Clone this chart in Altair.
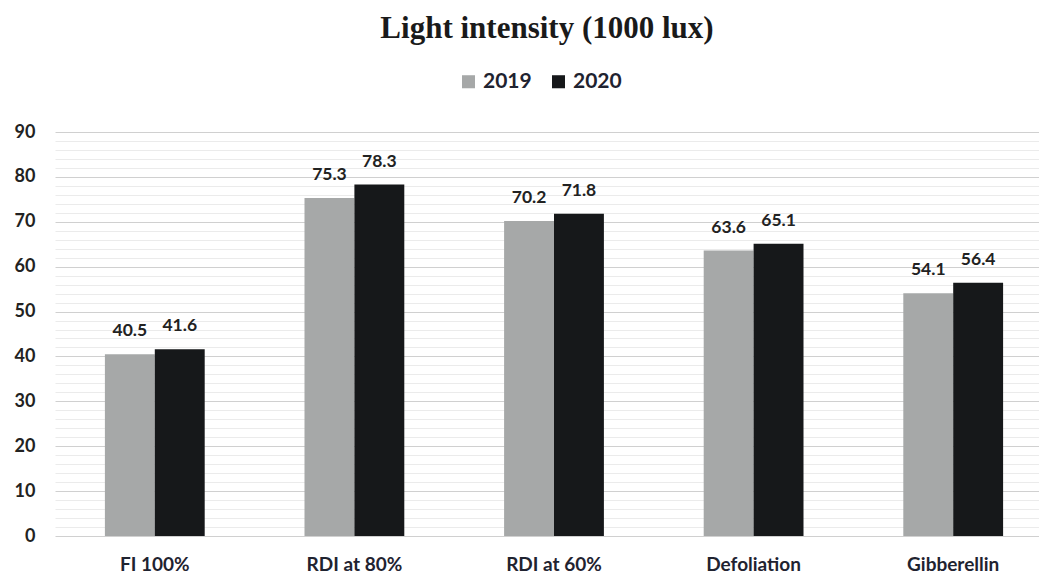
import altair as alt
import pandas as pd

categories = ["FI 100%", "RDI at 80%", "RDI at 60%", "Defoliation", "Gibberellin"]
years = ["2019", "2020"]
values_2019 = [40.5, 75.3, 70.2, 63.6, 54.1]
values_2020 = [41.6, 78.3, 71.8, 65.1, 56.4]
y_ticks = list(range(0, 91, 2))

rows = []
for c, a, b in zip(categories, values_2019, values_2020):
    rows.append({"cat": c, "year": "2019", "value": a})
    rows.append({"cat": c, "year": "2020", "value": b})
df = pd.DataFrame(rows)

FONT = "Lato"
color_scale = alt.Scale(domain=years, range=["#a6a8a8", "#16181a"])

x = alt.X("cat:N", sort=categories, title=None,
          scale=alt.Scale(paddingInner=0.5, paddingOuter=0.25, range=[0, 998]),
          axis=alt.Axis(labelAngle=0, labelFont=FONT, labelFontSize=19, labelFontWeight="bold",
                        labelColor="#1f2330", labelPadding=19, ticks=False, domain=False, grid=False))
y = alt.Y("value:Q", title=None,
          scale=alt.Scale(domain=[0, 90], nice=False, zero=True),
          axis=alt.Axis(values=y_ticks, labelExpr="datum.value % 10 == 0 ? datum.label : ''",
                        labelOverlap=False,
                        labelFont=FONT, labelFontSize=18, labelFontWeight="bold", labelColor="#222",
                        labelPadding=20, ticks=False, domain=False,
                        gridColor=alt.condition("datum.value % 10 == 0", alt.value("#d0d0d0"), alt.value("#ebebeb")),
                        gridWidth=1))

base = alt.Chart(df).encode(x=x, y=y, xOffset=alt.XOffset("year:N", sort=years))

bars = base.mark_bar().encode(
    color=alt.Color("year:N", scale=color_scale, title=None,
                    legend=alt.Legend(orient="none", legendX=403, legendY=-61, direction="horizontal",
                                      symbolType="square", symbolSize=170, symbolStrokeWidth=0,
                                      labelFont=FONT, labelFontSize=21, labelFontWeight="bold",
                                      labelColor="#1f2330", columnPadding=16, labelOffset=4)),
)
labels = base.mark_text(dy=-23, font=FONT, fontSize=17.5, fontWeight="bold", color="#222").encode(
    text=alt.Text("value:Q", format=".1f"))

chart = (bars + labels).properties(
    width=984, height=404,
    title=alt.TitleParams("Light intensity (1000 lux)", anchor="middle", font="Liberation Serif",
                          fontSize=31, fontWeight="bold", color="#1a1a1a", offset=26),
    autosize=alt.AutoSizeParams(type="none"),
    padding={"left": 55, "top": 132, "right": 0, "bottom": 44},
).configure(background="white").configure_view(stroke=None)

chart.save("out.html", embed_options={"renderer": "svg", "actions": False})
